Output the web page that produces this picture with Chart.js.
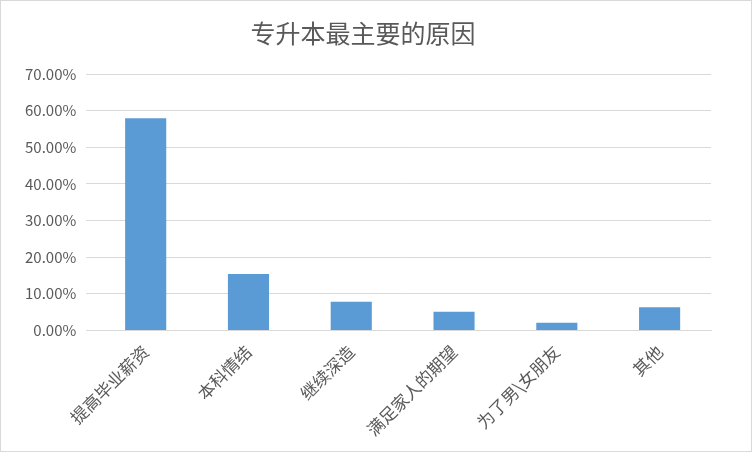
<!DOCTYPE html>
<html>
<head>
<meta charset="utf-8">
<script src="https://cdn.jsdelivr.net/npm/chart.js@4/dist/chart.umd.min.js"></script>
<style>
  body { margin: 0; background: #fff; }
  #wrap { width: 750px; height: 450px; border: 1px solid #d9d9d9; }
</style>
</head>
<body>
<div id="wrap"><canvas id="c" width="750" height="450"></canvas></div>
<script>
// 数据
const categories = ['提高毕业薪资', '本科情结', '继续深造', '满足家人的期望', '为了男\\女朋友', '其他'];
const values = [0.579, 0.154, 0.078, 0.051, 0.021, 0.063];

new Chart(document.getElementById('c'), {
    type: 'bar',
    data: {
        labels: categories,
        datasets: [{
            data: values,
            backgroundColor: '#5b9bd5',
            categoryPercentage: 0.8,
            barPercentage: 0.5
        }]
    },
    options: {
        responsive: false,
        animation: false,
        layout: { padding: { left: 14, right: 40, top: 5, bottom: 8 } },
        plugins: {
            legend: { display: false },
            tooltip: { enabled: false },
            title: {
                display: true,
                text: '专升本最主要的原因',
                color: '#595959',
                font: { family: 'Noto Sans CJK SC', size: 25, weight: 'normal' },
                padding: { top: 12, bottom: 26 }
            }
        },
        scales: {
            y: {
                min: 0, max: 0.7,
                ticks: {
                    stepSize: 0.1,
                    color: '#595959',
                    padding: 10,
                    font: { family: 'Noto Sans CJK SC', size: 15 },
                    callback: v => (v * 100).toFixed(2) + '%'
                },
                grid: { color: '#d9d9d9' },
                border: { display: false }
            },
            x: {
                ticks: {
                    color: '#595959',
                    font: { family: 'Noto Sans CJK SC', size: 17 },
                    maxRotation: 45, minRotation: 45
                },
                grid: { display: false },
                border: { color: '#d9d9d9' }
            }
        }
    }
});
</script>
</body>
</html>
